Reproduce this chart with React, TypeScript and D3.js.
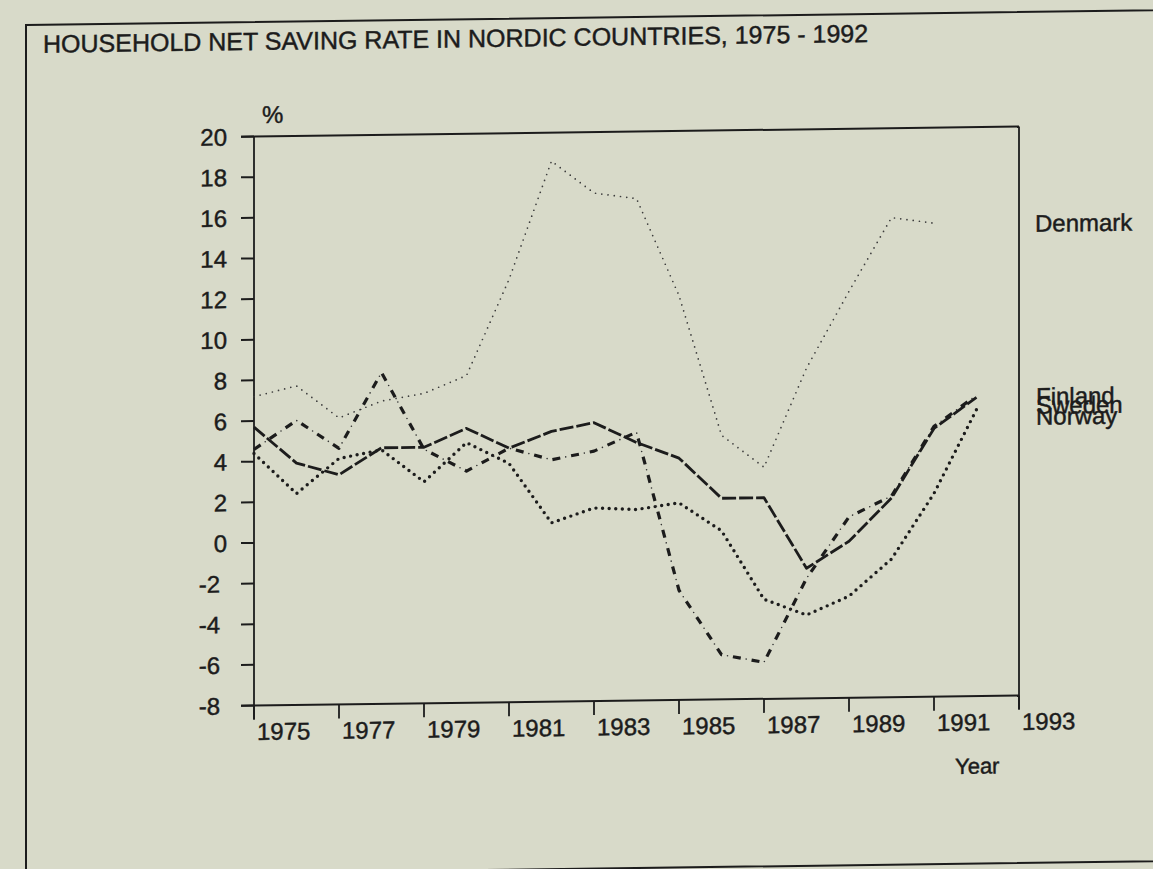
import React from "react";
import * as d3 from "d3";

const years = [1975, 1976, 1977, 1978, 1979, 1980, 1981, 1982, 1983, 1984, 1985, 1986, 1987, 1988, 1989, 1990, 1991, 1992];
const denmark: (number | null)[] = [7.2, 7.7, 6.1, 6.9, 7.25, 8.1, 12.8, 18.6, 17.0, 16.7, 11.9, 5.0, 3.4, 8.25, 12.0, 15.6, 15.3, null];
const finland: (number | null)[] = [5.7, 3.9, 3.3, 4.6, 4.6, 5.5, 4.5, 5.3, 5.7, 4.7, 3.9, 1.9, 1.9, -1.6, -0.3, 1.8, 5.2, 6.7];
const sweden: (number | null)[] = [4.4, 2.4, 4.1, 4.5, 2.9, 4.8, 3.75, 0.8, 1.5, 1.4, 1.7, 0.3, -3.1, -3.9, -3.0, -1.2, 2.0, 6.1];
const norway: (number | null)[] = [4.6, 6.0, 4.6, 8.3, 4.5, 3.4, 4.5, 3.9, 4.3, 5.2, -2.6, -5.8, -6.2, -2.1, 0.9, 1.9, 5.3, 6.8];

const yTicks = [-8, -6, -4, -2, 0, 2, 4, 6, 8, 10, 12, 14, 16, 18, 20];
const xTicks = [1975, 1977, 1979, 1981, 1983, 1985, 1987, 1989, 1991, 1993];

const title = "HOUSEHOLD NET SAVING RATE IN NORDIC COUNTRIES, 1975 - 1992";

const W = 1153;
const H = 869;
const BG = "#d8dac9";
const INK = "#1c1c1c";
const FONT = "'Liberation Sans', Arial, Helvetica, sans-serif";

const textStyle = { fill: INK, stroke: INK, strokeWidth: 0.45 };

export default function App() {
  const x = d3.scaleLinear().domain([1975, 1993]).range([254, 1019]);
  const y = d3.scaleLinear().domain([-8, 20]).range([705.5, 136.5]);

  const line = d3
    .line<number | null>()
    .defined((d) => d != null)
    .x((_, i) => x(years[i]))
    .y((d) => y(d as number));

  const k = 0.013;
  const left = x(1975);
  const right = x(1993);
  const top = y(20);
  const bottom = y(-8);

  return (
    <svg
      width={W}
      height={H}
      style={{ position: "absolute", left: 0, top: 0, background: BG }}
      fontFamily={FONT}
    >
      <rect x={0} y={0} width={W} height={H} fill={BG} />
      <g transform={`matrix(1,${-k},0,1,0,${k * 254})`}>
        {/* outer frame */}
        <rect x={26} y={22} width={1300} height={851} fill="none" stroke={INK} strokeWidth={2} />
        <text x={43} y={50} fontSize={25} {...textStyle}>
          {title}
        </text>

        {/* plot box */}
        <line x1={left - 13} x2={right} y1={top} y2={top} stroke={INK} strokeWidth={2} />
        <line x1={left - 13} x2={right} y1={bottom} y2={bottom} stroke={INK} strokeWidth={2} />
        <line x1={left} x2={left} y1={top} y2={bottom + 14} stroke={INK} strokeWidth={1.8} />
        <line x1={right} x2={right} y1={top} y2={bottom + 14} stroke={INK} strokeWidth={1.8} />

        {yTicks.map((t) => (
          <g key={t}>
            <line x1={left - 13} x2={left} y1={y(t)} y2={y(t)} stroke={INK} strokeWidth={2} />
            <text
              x={t < 0 ? 220 : 227}
              y={y(t)}
              dy="0.36em"
              textAnchor="end"
              fontSize={24}
              {...textStyle}
            >
              {t}
            </text>
          </g>
        ))}
        {xTicks.map((t) => (
          <g key={t}>
            <line x1={x(t)} x2={x(t)} y1={bottom} y2={bottom + 14} stroke={INK} strokeWidth={1.8} />
            <text x={x(t) + 3} y={740} fontSize={24} {...textStyle}>
              {t}
            </text>
          </g>
        ))}
        <text x={262} y={123} fontSize={24} {...textStyle}>
          %
        </text>
        <text x={955} y={783} fontSize={22} {...textStyle}>
          Year
        </text>

        {/* series */}
        <path
          d={line(denmark) || ""}
          fill="none"
          stroke="#3c3c3c"
          strokeWidth={1.7}
          strokeDasharray="0 6.3"
          strokeLinecap="round"
          strokeLinejoin="round"
        />
        <path
          d={line(sweden) || ""}
          fill="none"
          stroke={INK}
          strokeWidth={3.4}
          strokeDasharray="0 6.6"
          strokeLinecap="round"
          strokeLinejoin="round"
        />
        <path
          d={line(norway) || ""}
          fill="none"
          stroke="#333"
          strokeWidth={1.6}
          strokeDasharray="0 19"
          strokeDashoffset={5.5}
          strokeLinecap="round"
        />
        <path
          d={line(norway) || ""}
          fill="none"
          stroke={INK}
          strokeWidth={3.2}
          strokeDasharray="8 11"
          strokeLinejoin="round"
        />
        <path
          d={line(finland) || ""}
          fill="none"
          stroke={INK}
          strokeWidth={2.8}
          strokeDasharray="14 3"
          strokeLinejoin="round"
        />

        {/* series labels */}
        <text x={1035} y={242} fontSize={24} {...textStyle}>
          Denmark
        </text>
        <text x={1036} y={415} fontSize={24} {...textStyle}>
          Finland
        </text>
        <text x={1036} y={424} fontSize={24} {...textStyle}>
          Sweden
        </text>
        <text x={1036} y={435} fontSize={24} {...textStyle}>
          Norway
        </text>
      </g>
    </svg>
  );
}
